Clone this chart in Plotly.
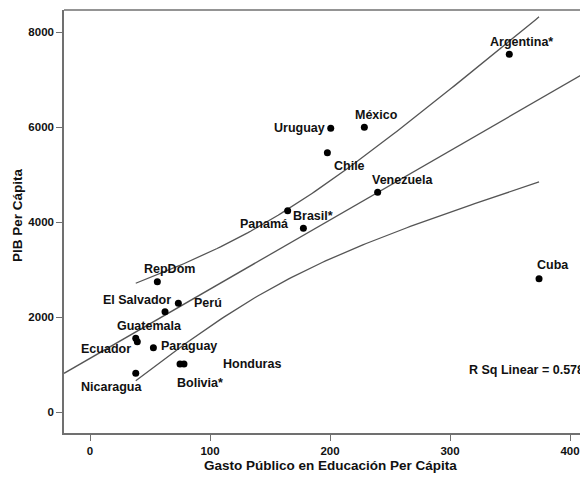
import numpy as np
import plotly.graph_objects as go

# ---- data ----
countries = ["Argentina*", "México", "Uruguay", "Chile", "Venezuela", "Brasil*",
             "Panamá", "RepDom", "Perú", "El Salvador", "Guatemala", "Ecuador",
             "Paraguay", "Bolivia*", "Honduras", "Nicaragua", "Cuba"]
gasto = [349.4, 228.6, 200.6, 197.8, 239.7, 177.8,
         164.7, 56.1, 73.6, 62.5, 38.1, 39.4,
         52.8, 75.0, 78.3, 38.1, 374.2]
pib = [7536, 5999, 5978, 5465, 4631, 3873,
       4244, 2749, 2294, 2118, 1558, 1486,
       1360, 1017, 1017, 821, 2812]
x_ticks = [0, 100, 200, 300, 400]
y_ticks = [0, 2000, 4000, 6000, 8000]
r2_text = "R Sq Linear = 0.578"
x_title = "Gasto Público en Educación Per Cápita"
y_title = "PIB Per Cápita"

# ---- styles ----
X_RANGE = [-21.7, 415]
Y_RANGE = [-436, 8470]
FONT = "Liberation Sans, Arial, sans-serif"
LINE_COL = "#555555"
FRAME_COL = "#707070"
# label offsets in pixels: (xshift, yshift, xanchor)
label_pos = {
    "Argentina*": (12, 12, "center"), "México": (12, 12, "center"),
    "Uruguay": (-4, 0, "right"), "Chile": (22, -13, "center"),
    "Venezuela": (25, 12, "center"), "Brasil*": (10, 12.5, "center"),
    "Panamá": (-24, -13, "center"), "RepDom": (12, 13, "center"),
    "Perú": (14, 0, "left"), "El Salvador": (-28.5, 12, "center"),
    "Guatemala": (14, 12.5, "center"), "Ecuador": (-31, -7, "center"),
    "Paraguay": (6, 2, "left"), "Bolivia*": (20, -19, "center"),
    "Honduras": (37, 0, "left"), "Nicaragua": (-24, -14, "center"),
    "Cuba": (13.5, 13.5, "center"),
}

# ---- linear fit and 95% mean confidence band ----
xa = np.array(gasto, float)
ya = np.array(pib, float)
n = len(xa)
slope, intercept = np.polyfit(xa, ya, 1)
resid = ya - (intercept + slope * xa)
s = np.sqrt(np.sum(resid ** 2) / (n - 2))
sxx = np.sum((xa - xa.mean()) ** 2)
t_crit = 2.131  # t(0.975, df=15)

xl = np.array(X_RANGE)
yl = intercept + slope * xl
xc = np.linspace(xa.min(), xa.max(), 120)
yc = intercept + slope * xc
half = t_crit * s * np.sqrt(1 / n + (xc - xa.mean()) ** 2 / sxx)

fig = go.Figure()
line_style = dict(color=LINE_COL, width=1.3)
fig.add_trace(go.Scatter(x=xl, y=yl, mode="lines", line=line_style, hoverinfo="skip"))
fig.add_trace(go.Scatter(x=xc, y=yc + half, mode="lines", line=line_style, hoverinfo="skip"))
fig.add_trace(go.Scatter(x=xc, y=yc - half, mode="lines", line=line_style, hoverinfo="skip"))
fig.add_trace(go.Scatter(x=gasto, y=pib, mode="markers",
                         marker=dict(color="black", size=7), text=countries))

for c, xv, yv in zip(countries, gasto, pib):
    dx, dy, anc = label_pos[c]
    fig.add_annotation(x=xv, y=yv, xref="x", yref="y", text=c, showarrow=False,
                       xshift=dx, yshift=dy, xanchor=anc, yanchor="middle",
                       font=dict(family=FONT, size=12.5, color="#111", weight="bold"))

fig.add_annotation(x=0.769, y=0.149, xref="paper", yref="paper", text=r2_text,
                   showarrow=False, xanchor="left", yanchor="middle",
                   font=dict(family=FONT, size=12.5, color="#111", weight="bold"))
fig.add_annotation(x=0.508, y=-0.078, xref="paper", yref="paper", text=x_title,
                   showarrow=False, xanchor="center", yanchor="middle",
                   font=dict(family=FONT, size=13.5, color="#111", weight="bold"))
fig.add_annotation(x=-0.09, y=0.515, xref="paper", yref="paper", text=y_title,
                   showarrow=False, xanchor="center", yanchor="middle", textangle=-90,
                   font=dict(family=FONT, size=13.5, color="#111", weight="bold"))

fig.add_shape(type="line", xref="paper", yref="paper", x0=0, x1=1, y0=1, y1=1,
              line=dict(color=FRAME_COL, width=1.5))

axis_common = dict(showgrid=False, zeroline=False, showline=True, linecolor=FRAME_COL,
                   linewidth=1.5, ticks="outside", ticklen=6, tickwidth=1.2,
                   tickcolor=FRAME_COL,
                   tickfont=dict(family=FONT, size=11.5, color="#111", weight="bold"))
fig.update_xaxes(range=X_RANGE, tickvals=x_ticks, **axis_common)
fig.update_yaxes(range=Y_RANGE, tickvals=y_ticks, **axis_common)

# the page body has an 8px margin, so the figure is 8px smaller each way
fig.update_layout(width=580, height=471, margin=dict(l=56, r=0, t=2, b=46),
                  plot_bgcolor="white", paper_bgcolor="white", showlegend=False)

fig.write_html("out.html")
